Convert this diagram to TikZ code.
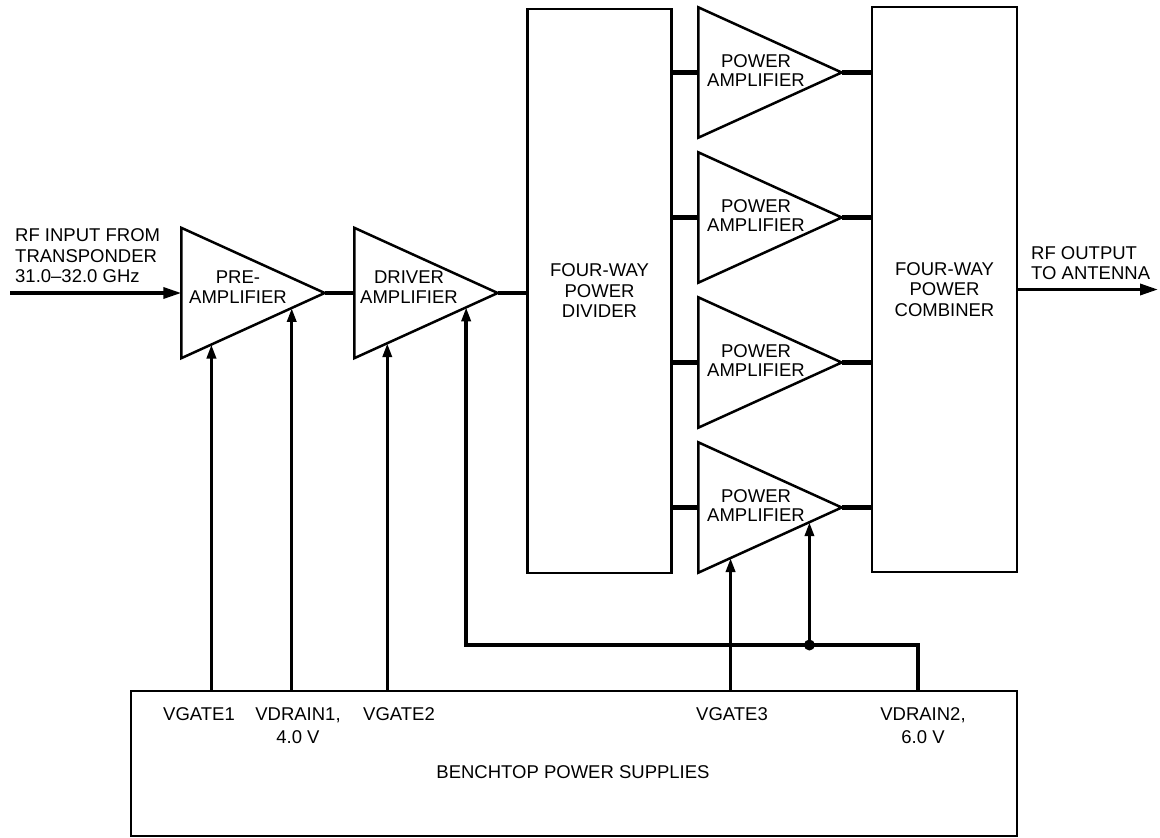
\documentclass[tikz,border=0pt]{standalone}
\usepackage{fontspec}
\setmainfont{Liberation Sans}
\usepackage{tikz}
\usetikzlibrary{arrows.meta, positioning, calc}

\begin{document}
\begin{tikzpicture}[x=1pt, y=-1pt, font=\fontsize{18.5}{20.5}\selectfont,
    blk/.style={draw, line width=2.5pt, line join=miter},
    amp/.style={minimum width=143pt, minimum height=130pt, inner sep=0pt},
    tall/.style={blk, minimum width=144pt, minimum height=564pt, inner sep=0pt, align=center},
    sig/.style={line width=4.2pt},
    feed/.style={line width=3.4pt, line join=miter, -{Triangle[length=14pt, width=9pt]}},
    rf/.style={line width=3.4pt, -{Triangle[length=18pt, width=11pt]}},
    lbl/.style={inner sep=0pt, align=center}]
    \useasboundingbox (0,0) rectangle (1160,838);

    % ── Amplifier chain ──────────────────────────────────────────────
    \node[amp] (pre) at (253,293) {};
    \node[amp] (drv) at (426,293) {};
    \node[tall] (div) at (599.5,291) {FOUR-WAY\\POWER\\DIVIDER};
    \foreach \i/\y in {1/72.5, 2/217.5, 3/362.5, 4/507.5}
        \node[amp] (pa\i) at (770,\y) {};
    \node[tall, minimum width=145pt, minimum height=565pt] (comb) at (944.5,289.5) {FOUR-WAY\\POWER\\COMBINER};

    % triangles
    \foreach \a in {pre,drv,pa1,pa2,pa3,pa4}
        \draw[blk] (\a.north west) -- (\a.east) -- (\a.south west) -- cycle;

    \node[lbl] (pretxt) at ($(pre.center)+(-15,-6)$) {PRE-\\AMPLIFIER};
    \node[lbl] (drvtxt) at ($(drv.center)+(-17,-6)$) {DRIVER\\AMPLIFIER};
    \foreach \i in {1,...,4}
        \node[lbl, font=\fontsize{18.5}{19}\selectfont] (pa\i txt) at ($(pa\i.center)+(-14,-2)$) {POWER\\AMPLIFIER};

    % signal path
    \draw[sig] (pre.east) -- (drv.west);
    \draw[sig] (drv.east) -- (drv.east -| div.west);
    \foreach \i in {1,...,4}{
        \draw[sig] (pa\i.west -| div.east) -- (pa\i.west);
        \draw[sig] (pa\i.east) -- (pa\i.east -| comb.west);
    }

    % ── RF in / out ──────────────────────────────────────────────────
    \coordinate (src) at (10,293);
    \coordinate (dst) at (1158,289.5);
    \node[lbl, align=left, anchor=west] (intxt) at (15,256) {RF INPUT FROM\\TRANSPONDER\\31.0–32.0 GHz};
    \node[lbl, align=left, anchor=west] (outtxt) at (1031,263) {RF OUTPUT\\TO ANTENNA};
    \draw[rf] (src) -- (pre.west);
    \draw[rf] (comb.east) -- (dst);

    % ── Bias supplies ────────────────────────────────────────────────
    \node[blk, minimum width=886pt, minimum height=145pt, inner sep=0pt] (ps) at (574,763.5) {};
    \node[lbl] (pstxt) at (573,772) {BENCHTOP POWER SUPPLIES};

    \coordinate (pre-g) at ($(pre.south west)!0.21!(pre.east)$);
    \coordinate (pre-d) at ($(pre.south west)!0.77!(pre.east)$);
    \coordinate (drv-g) at ($(drv.south west)!0.23!(drv.east)$);
    \coordinate (drv-d) at ($(drv.south west)!0.78!(drv.east)$);
    \coordinate (pa4-g) at ($(pa4.south west)!0.225!(pa4.east)$);
    \coordinate (pa4-d) at ($(pa4.south west)!0.775!(pa4.east)$);

    \draw[feed] (pre-g |- ps.north) -- (pre-g);
    \draw[feed] (pre-d |- ps.north) -- (pre-d);
    \draw[feed] (drv-g |- ps.north) -- (drv-g);
    \draw[feed] (pa4-g |- ps.north) -- (pa4-g);

    % drain 2 bus
    \coordinate (vd2x) at (918,0);
    \coordinate (busy) at (0,645);
    \coordinate (bus) at (pa4-d |- busy);
    \draw[feed] (vd2x |- ps.north) |- (drv-d |- busy) -- (drv-d);
    \draw[feed] (bus) -- (pa4-d);
    \fill (bus) circle (5.5);

    \node[lbl] (vg1txt) at (199,714) {VGATE1};
    \node[lbl, font=\fontsize{18.5}{23}\selectfont] (vd1txt) at (298,725.5) {VDRAIN1,\\4.0 V};
    \node[lbl] (vg2txt) at (399,714) {VGATE2};
    \node[lbl] (vg3txt) at (732,714) {VGATE3};
    \node[lbl, font=\fontsize{18.5}{23}\selectfont] (vd2txt) at (923,725.5) {VDRAIN2,\\6.0 V};
\end{tikzpicture}
\end{document}
